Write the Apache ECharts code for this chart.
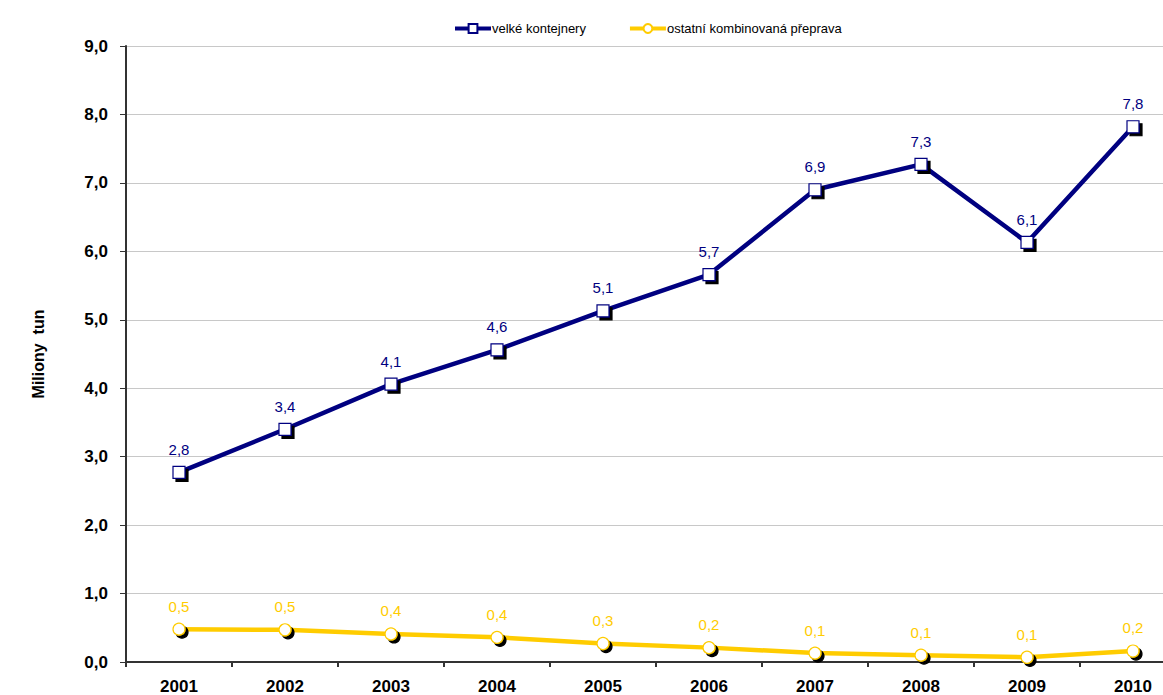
<!DOCTYPE html>
<html>
<head>
<meta charset="utf-8">
<script src="https://cdn.jsdelivr.net/npm/echarts@6/dist/echarts.min.js"></script>
<style>
  html, body { margin: 0; padding: 0; background: #fff; }
  #chart { width: 1163px; height: 695px; }
</style>
</head>
<body>
<div id="chart"></div>
<script>
const years = ["2001", "2002", "2003", "2004", "2005", "2006", "2007", "2008", "2009", "2010"];
const kontejnery = [2.77, 3.4, 4.06, 4.56, 5.13, 5.66, 6.9, 7.27, 6.13, 7.82];
const ostatni = [0.48, 0.47, 0.41, 0.36, 0.27, 0.21, 0.13, 0.1, 0.07, 0.16];
const seriesNames = ["velké kontejnery", "ostatní kombinovaná přeprava"];

const fmt = v => v.toFixed(1).replace(".", ",");

// svg renderer: shadow goes behind fill and border together
const chart = echarts.init(document.getElementById("chart"), null, { renderer: "svg" });

const makeSeries = (name, data, color, symbol, size) => ({
  name: name,
  type: "line",
  data: data,
  symbol: symbol,
  symbolSize: size,
  lineStyle: { color: color, width: 4.5 },
  itemStyle: {
    color: "#fff",
    borderColor: color,
    borderWidth: 1.2,
    shadowColor: "#000",
    shadowBlur: 0,
    shadowOffsetX: 3,
    shadowOffsetY: 3
  },
  label: {
    show: true,
    position: "top",
    distance: 9,
    color: color,
    fontSize: 15,
    fontFamily: "Liberation Sans",
    formatter: p => fmt(p.value)
  },
  emphasis: { disabled: true }
});

const option = {
  animation: false,
  backgroundColor: "#fff",
  legend: {
    top: 17,
    left: 448,
    itemGap: 42,
    itemWidth: 36,
    itemHeight: 11,
    lineStyle: { width: 4 },
    itemStyle: { shadowBlur: 0, shadowOffsetX: 0, shadowOffsetY: 0, shadowColor: "transparent" },
    textStyle: { fontSize: 13, fontFamily: "Liberation Sans", color: "#000", padding: [0, 0, 0, -4] },
    data: seriesNames
  },
  grid: { left: 126, top: 46, right: -23, bottom: 33, containLabel: false, outerBoundsMode: "none" },
  xAxis: {
    type: "category",
    data: years,
    boundaryGap: true,
    axisLine: { lineStyle: { color: "#333", width: 2 } },
    axisTick: { show: true, length: 5, lineStyle: { color: "#333", width: 2 } },
    axisLabel: { fontSize: 17, fontWeight: "bold", color: "#000", fontFamily: "Liberation Sans", margin: 16 }
  },
  yAxis: {
    type: "value",
    min: 0,
    max: 9,
    interval: 1,
    name: "Miliony  tun",
    nameLocation: "middle",
    nameGap: 80,
    nameRotate: 90,
    nameTextStyle: { fontSize: 16, fontWeight: "bold", color: "#000", fontFamily: "Liberation Sans" },
    axisLine: { show: true, lineStyle: { color: "#333", width: 2 } },
    axisTick: { show: true, length: 6, lineStyle: { color: "#333", width: 1 } },
    axisLabel: { fontSize: 17, fontWeight: "bold", color: "#000", fontFamily: "Liberation Sans", margin: 18, formatter: v => fmt(v) },
    splitLine: { lineStyle: { color: "#c8c8c8", width: 1 } }
  },
  series: [
    makeSeries(seriesNames[0], kontejnery, "#000080", "rect", 12),
    makeSeries(seriesNames[1], ostatni, "#ffcc00", "circle", 12)
  ]
};

chart.setOption(option);
</script>
</body>
</html>
